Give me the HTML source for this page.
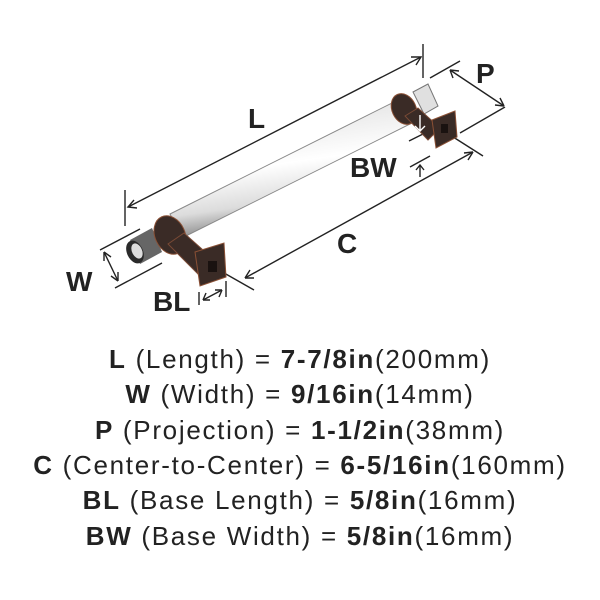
<!DOCTYPE html>
<html><head><style>
body{margin:0;background:#fff;width:600px;height:600px;overflow:hidden}
svg{position:absolute;left:0;top:0}
.t{position:absolute;left:0;width:600px;text-align:center;font-family:"Liberation Sans",sans-serif;font-size:26px;color:#222;letter-spacing:1.7px;white-space:nowrap}
.t b{font-weight:bold}
</style></head><body>
<svg width="600" height="600" viewBox="0 0 600 600">
<defs>
<linearGradient id="g" x1="0" y1="0" x2="0.25" y2="1">
<stop offset="0" stop-color="#8a8a8a"/><stop offset="0.25" stop-color="#e8e8e8"/><stop offset="0.55" stop-color="#ffffff"/><stop offset="0.8" stop-color="#dcdcdc"/><stop offset="1" stop-color="#7a7a7a"/></linearGradient>
</defs>
<g stroke="#222" stroke-width="1.4" fill="none">
<line x1="128" y1="207" x2="421" y2="57"/><line x1="125" y1="190" x2="125" y2="226"/><line x1="423" y1="44" x2="423" y2="78"/>
<path d="M134 200 L128 207 L137 208"/><path d="M411 57 L421 57 L416 65"/>
<line x1="430" y1="78" x2="460" y2="61"/><line x1="460" y1="133" x2="505" y2="107"/>
<line x1="450" y1="70" x2="504" y2="106"/><path d="M450 70 L459 71 M450 70 L453 78 M504 106 L495 105 M504 106 L500 98"/>
<line x1="245" y1="278" x2="473" y2="152"/><path d="M245 278 L250 270 M245 278 L254 278 M473 152 L464 153 M473 152 L468 160"/>
<line x1="210" y1="265" x2="254" y2="290"/><line x1="450" y1="135" x2="483" y2="156"/>
<line x1="100" y1="250" x2="140" y2="229"/><line x1="115" y1="288" x2="162" y2="263"/>
<line x1="104" y1="252" x2="118" y2="281"/><path d="M104 252 L104 261 M104 252 L111 257 M118 281 L118 272 M118 281 L111 276"/>
<line x1="199" y1="292" x2="199" y2="305"/><line x1="226" y1="281" x2="226" y2="297"/>
<line x1="203" y1="300" x2="222" y2="290"/><path d="M203 300 L206 293 M203 300 L210 300 M222 290 L219 297 M222 290 L215 290"/>
<line x1="409" y1="141" x2="433" y2="129"/><line x1="410" y1="167" x2="430" y2="156"/>
<line x1="420" y1="165" x2="420" y2="177"/><path d="M416 170 L420 165 L424 170"/>
</g>
<polygon points="170,214 402,98 414,122 182,238" fill="url(#g)" stroke="#888" stroke-width="1"/>
<polygon points="413,92 428,84 438,106 424,114" fill="#e0e0e0" stroke="#777"/>
<ellipse cx="404" cy="109" rx="12" ry="16" fill="#3a2b26" stroke="#8a5035" transform="rotate(-25 404 109)"/>
<polygon points="405,116 418,108 440,128 428,140" fill="#3a2b26" stroke="#7a4a35"/>
<polygon points="432,120 455,111 457,137 436,148" fill="#3a2b26" stroke="#8a5035"/>
<rect x="441" y="124" width="7" height="9" fill="#1a1210"/>
<path d="M420 115 L420 131 M415 126 L420 131 L425 126" stroke="#fff" stroke-width="1.4" fill="none"/>
<polygon points="130,240 152,228 162,252 140,264" fill="#666"/>
<ellipse cx="135" cy="252" rx="8" ry="12" fill="#2a2a2a" transform="rotate(-25 135 252)"/>
<ellipse cx="137" cy="251" rx="5" ry="8" fill="#ddd" transform="rotate(-25 137 251)"/>
<ellipse cx="170" cy="235" rx="15" ry="20" fill="#3a2b26" stroke="#8a5035" transform="rotate(-25 170 235)"/>
<polygon points="168,244 184,233 212,258 198,274" fill="#3a2b26" stroke="#7a4a35"/>
<polygon points="195,252 224,243 226,277 200,286" fill="#3a2b26" stroke="#8a5035"/>
<rect x="208" y="261" width="9" height="11" fill="#1a1210"/>
<g font-family="Liberation Sans,sans-serif" font-size="28" fill="#222" font-weight="bold">
<text x="248" y="128">L</text><text x="476" y="83">P</text><text x="337" y="253">C</text>
<text x="66" y="291">W</text><text x="153" y="311">BL</text><text x="350" y="177">BW</text>
</g>
</svg>
<div class="t" style="top:344px"><b>L</b> (Length) = <b>7-7/8in</b>(200mm)</div>
<div class="t" style="top:379px"><b>W</b> (Width) = <b>9/16in</b>(14mm)</div>
<div class="t" style="top:415px"><b>P</b> (Projection) = <b>1-1/2in</b>(38mm)</div>
<div class="t" style="top:450px"><b>C</b> (Center-to-Center) = <b>6-5/16in</b>(160mm)</div>
<div class="t" style="top:485px"><b>BL</b> (Base Length) = <b>5/8in</b>(16mm)</div>
<div class="t" style="top:521px"><b>BW</b> (Base Width) = <b>5/8in</b>(16mm)</div>
</body></html>
